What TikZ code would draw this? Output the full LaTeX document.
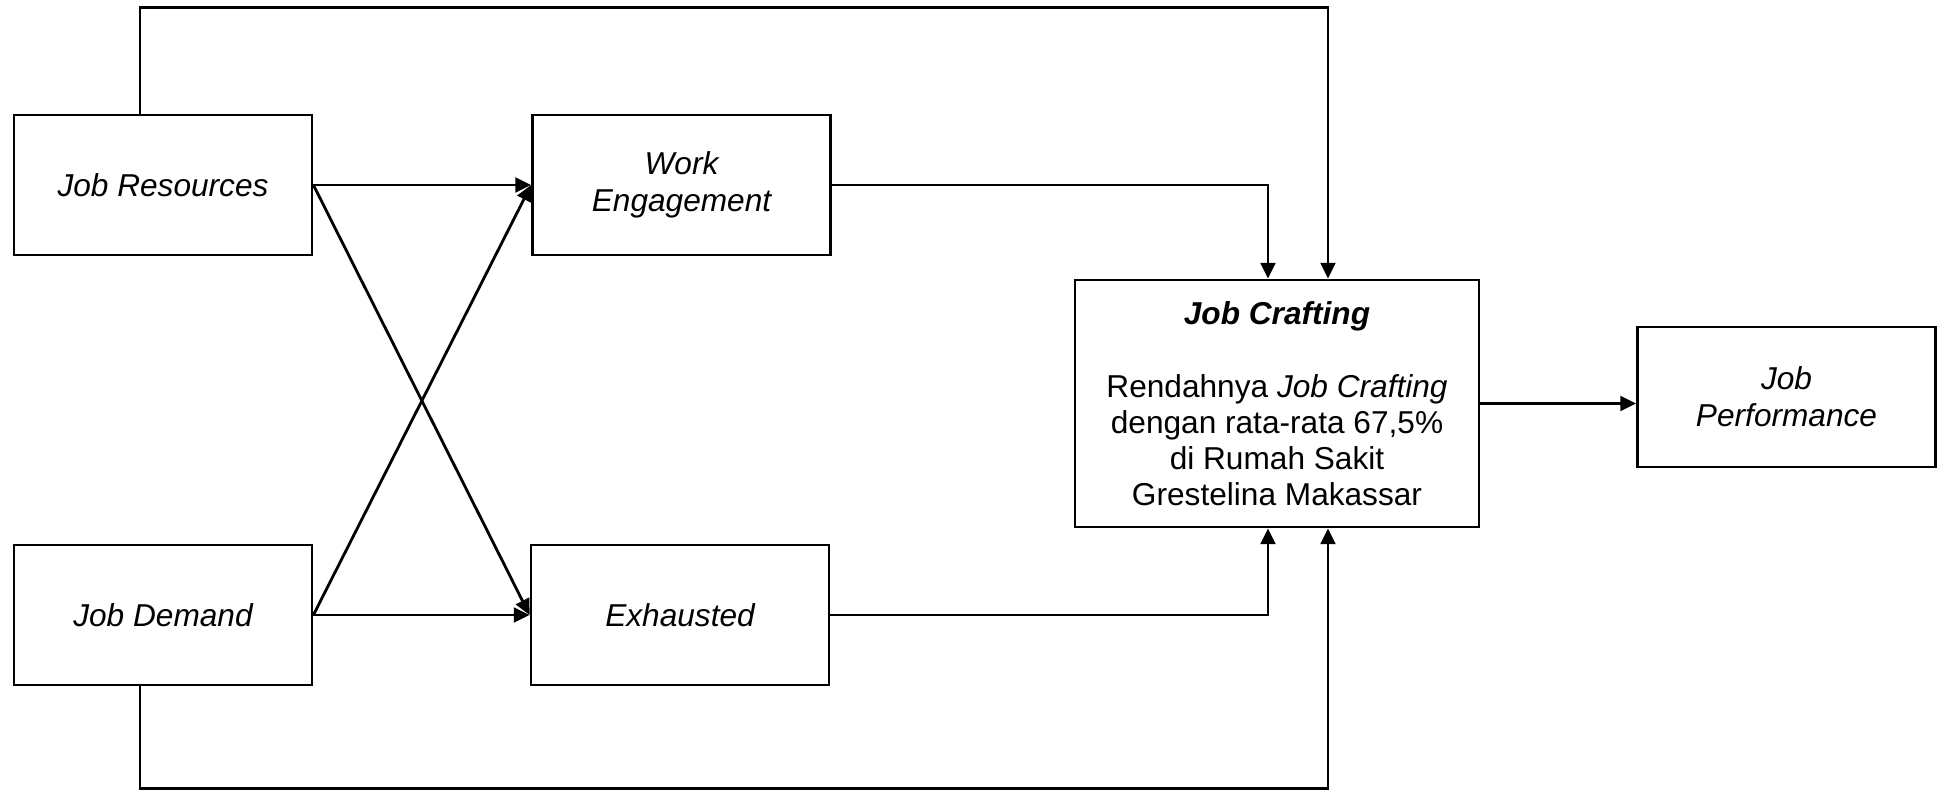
\documentclass[tikz,border=0pt]{standalone}
\usepackage{fontspec}
\setmainfont{Liberation Sans}
\usetikzlibrary{arrows.meta}

\tikzset{
	box/.style={draw, line width=0.8pt, minimum width=2.98cm, minimum height=1.40cm,
		align=center, font=\fontsize{9}{10.6}\selectfont\itshape},
	arr/.style={-{Triangle[length=4.5pt,width=4.2pt]}, line width=0.8pt},
}

\begin{document}
\begin{tikzpicture}
		\useasboundingbox (0,0) rectangle (19.41,-7.91);

		% Left column
		\node[box] (JR) at (1.63, -1.85) {Job Resources};
		\node[box] (JD) at (1.63, -6.15) {Job Demand};

		% Middle column
		\node[box] (WE) at (6.815, -1.85) {Work\\Engagement};
		\node[box] (EX) at (6.80, -6.15) {Exhausted};

		% Right side
		\node[box, minimum width=4.04cm, minimum height=2.47cm, font=\fontsize{9}{10.2}\selectfont] (JC) at (12.77, -4.035)
			{\textbf{\textit{Job Crafting}}\\[10.6pt]Rendahnya \textit{Job Crafting}\\dengan rata-rata 67,5\%\\di Rumah Sakit\\Grestelina Makassar};
		\node[box] (JP) at (17.865, -3.97) {Job\\Performance};

		\coordinate (topR) at (13.28, -0.074);
		\coordinate (botR) at (13.28, -7.885);

		\draw[arr] (JR.east) -- (WE.west);
		\draw[arr] (JR.east) -- (EX.west);
		\draw[arr] (JD.east) -- (WE.west);
		\draw[arr] (JD.east) -- (EX.west);

		\draw[arr] (WE.east) -| ([xshift=-0.09cm]JC.north);
		\draw[arr] (EX.east) -| ([xshift=-0.09cm]JC.south);

		\draw[arr] ([xshift=-0.23cm]JR.north) |- (topR) -- (topR |- JC.north);
		\draw[arr] ([xshift=-0.23cm]JD.south) |- (botR) -- (botR |- JC.south);

		\draw[arr] (JC.east) -- (JC.east -| JP.west);

	\end{tikzpicture}
\end{document}
